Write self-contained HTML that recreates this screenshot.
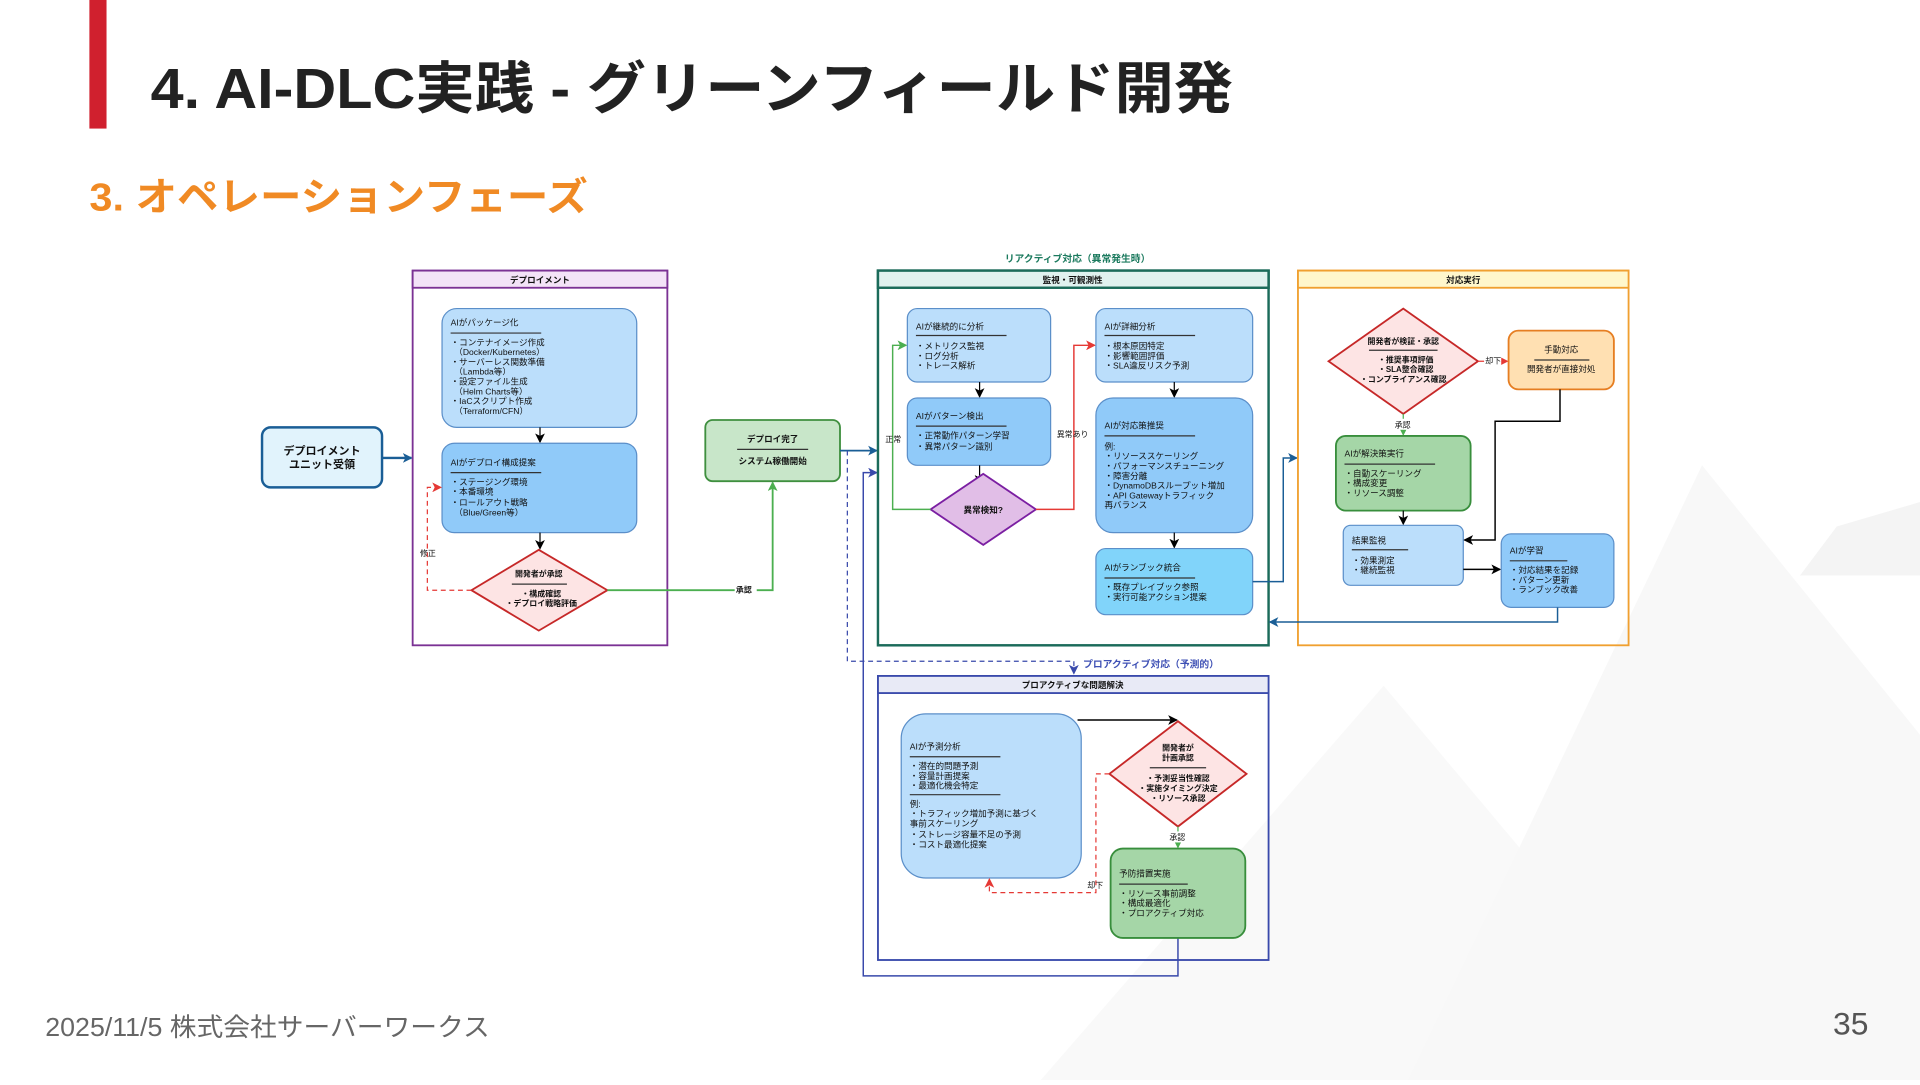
<!DOCTYPE html>
<html><head><meta charset="utf-8"><style>
html,body{margin:0;padding:0;background:#fff;}
body{width:1920px;height:1080px;overflow:hidden;position:relative;font-family:"Liberation Sans","Noto Sans CJK JP",sans-serif;}
svg text{font-family:"Liberation Sans","Noto Sans CJK JP",sans-serif;}
</style></head><body>
<svg width="1920" height="1080" viewBox="0 0 1568 882" xmlns="http://www.w3.org/2000/svg">
<defs>
<marker id="ak" markerWidth="8" markerHeight="8" refX="7" refY="4" orient="auto" markerUnits="userSpaceOnUse"><path d="M0,0 L8,4 L0,8 L2,4z" fill="#000"/></marker>
<marker id="ab" markerWidth="8" markerHeight="8" refX="7" refY="4" orient="auto" markerUnits="userSpaceOnUse"><path d="M0,0 L8,4 L0,8 L2,4z" fill="#1a5e96"/></marker>
<marker id="ag" markerWidth="8" markerHeight="8" refX="7" refY="4" orient="auto" markerUnits="userSpaceOnUse"><path d="M0,0 L8,4 L0,8 L2,4z" fill="#4caf50"/></marker>
<marker id="ar" markerWidth="8" markerHeight="8" refX="7" refY="4" orient="auto" markerUnits="userSpaceOnUse"><path d="M0,0 L8,4 L0,8 L2,4z" fill="#e53935"/></marker>
<marker id="ai" markerWidth="8" markerHeight="8" refX="7" refY="4" orient="auto" markerUnits="userSpaceOnUse"><path d="M0,0 L8,4 L0,8 L2,4z" fill="#3949ab"/></marker>
</defs>
<!-- background mountains -->
<polygon points="850,882 1130,560 1400,882" fill="#f9f9f9"/>
<polygon points="1150,882 1390,380 1568,600 1568,882" fill="#f8f8f8"/>
<polygon points="1500,430 1568,410 1568,470 1470,470" fill="#f4f4f4"/>
<!-- header -->
<rect x="73" y="0" width="14" height="105" fill="#d0202e"/>
<text x="123" y="88" font-size="46" font-weight="bold" fill="#222" textLength="884" lengthAdjust="spacingAndGlyphs">4. AI-DLC実践 - グリーンフィールド開発</text>
<text x="73" y="172" font-size="32" font-weight="bold" fill="#f08a24" textLength="407" lengthAdjust="spacingAndGlyphs">3. オペレーションフェーズ</text>
<text x="37" y="846" font-size="21" fill="#666" textLength="363" lengthAdjust="spacingAndGlyphs">2025/11/5 株式会社サーバーワークス</text>
<text x="1497" y="845" font-size="26" fill="#555">35</text>

<g font-size="7" fill="#111">
<rect x="214" y="349" width="98" height="49" rx="7" fill="#e1f3fc" stroke="#1a5e96" stroke-width="2"/>
<text x="263" y="371" text-anchor="middle" font-size="9" font-weight="bold">デプロイメント</text>
<text x="263" y="382" text-anchor="middle" font-size="9" font-weight="bold">ユニット受領</text>
<line x1="312" y1="374" x2="336" y2="374" stroke="#1a5e96" stroke-width="2" marker-end="url(#ab)"/>

<rect x="337" y="221" width="208" height="306" fill="none" stroke="#7b3294" stroke-width="1.5"/>
<rect x="337" y="221" width="208" height="14" fill="#f3e3f7" stroke="#7b3294" stroke-width="1.5"/>
<text x="441" y="231" text-anchor="middle" font-weight="bold">デプロイメント</text>
<rect x="361" y="252" width="159" height="97" rx="12" fill="#bbdefb" stroke="#5b8fc9"/>
<text x="368" y="266">AIがパッケージ化</text>
<line x1="368" y1="272" x2="442" y2="272" stroke="#333"/>
<text x="368" y="282">・コンテナイメージ作成</text>
<text x="371" y="290">（Docker/Kubernetes）</text>
<text x="368" y="298">・サーバーレス関数準備</text>
<text x="371" y="306">（Lambda等）</text>
<text x="368" y="314">・設定ファイル生成</text>
<text x="371" y="322">（Helm Charts等）</text>
<text x="368" y="330">・IaCスクリプト作成</text>
<text x="371" y="338">（Terraform/CFN）</text>
<line x1="441" y1="349" x2="441" y2="361" stroke="#000" marker-end="url(#ak)"/>
<rect x="361" y="362" width="159" height="73" rx="10" fill="#90caf9" stroke="#5b8fc9"/>
<text x="368" y="380">AIがデプロイ構成提案</text>
<line x1="368" y1="386" x2="442" y2="386" stroke="#333"/>
<text x="368" y="396">・ステージング環境</text>
<text x="368" y="404">・本番環境</text>
<text x="368" y="413">・ロールアウト戦略</text>
<text x="371" y="421">（Blue/Green等）</text>
<line x1="441" y1="435" x2="441" y2="448" stroke="#000" marker-end="url(#ak)"/>
<polygon points="440,449 496,482 440,515 385,482" fill="#fde4e4" stroke="#c62828" stroke-width="1.5"/>
<text x="440" y="471" text-anchor="middle" font-size="6.5" font-weight="bold">開発者が承認</text>
<line x1="418" y1="477" x2="463" y2="477" stroke="#333"/>
<text x="442" y="487" text-anchor="middle" font-size="6.5" font-weight="bold">・構成確認</text>
<text x="442" y="495" text-anchor="middle" font-size="6.5" font-weight="bold">・デプロイ戦略評価</text>
<polyline points="385,482 349,482 349,398 360,398" fill="none" stroke="#e53935" stroke-dasharray="4,3" marker-end="url(#ar)"/>
<text x="343" y="454" font-size="6.5">修正</text>
<polyline points="496,482 631,482 631,394" fill="none" stroke="#4caf50" stroke-width="1.5" marker-end="url(#ag)"/>
<rect x="600" y="476" width="18" height="9" fill="#fff"/>
<text x="601" y="484" font-size="6.5" font-weight="bold">承認</text>

<rect x="576" y="343" width="110" height="50" rx="6" fill="#c8e6c9" stroke="#3f8f3f" stroke-width="1.5"/>
<text x="631" y="361" text-anchor="middle" font-weight="bold">デプロイ完了</text>
<line x1="602" y1="367" x2="660" y2="367" stroke="#333"/>
<text x="631" y="379" text-anchor="middle" font-weight="bold">システム稼働開始</text>
<line x1="686" y1="368" x2="716" y2="368" stroke="#1a5e96" stroke-width="1.5" marker-end="url(#ab)"/>
<polyline points="692,368 692,540 877,540 877,550" fill="none" stroke="#3949ab" stroke-dasharray="4,3" marker-end="url(#ai)"/>
<polyline points="962,766 962,797 705,797 705,386 716,386" fill="none" stroke="#3949ab" stroke-width="1.2" marker-end="url(#ai)"/>

<text x="880" y="214" text-anchor="middle" font-size="8" font-weight="bold" fill="#1b7a5e">リアクティブ対応（異常発生時）</text>
<rect x="717" y="221" width="319" height="306" fill="none" stroke="#1b6b5a" stroke-width="2"/>
<rect x="717" y="221" width="319" height="14" fill="#e0f2ef" stroke="#1b6b5a" stroke-width="2"/>
<text x="876" y="231" text-anchor="middle" font-weight="bold">監視・可観測性</text>
<rect x="741" y="252" width="117" height="60" rx="8" fill="#bbdefb" stroke="#5b8fc9"/>
<text x="748" y="269">AIが継続的に分析</text>
<line x1="748" y1="274" x2="822" y2="274" stroke="#333"/>
<text x="748" y="285">・メトリクス監視</text>
<text x="748" y="293">・ログ分析</text>
<text x="748" y="301">・トレース解析</text>
<line x1="800" y1="312" x2="800" y2="324" stroke="#000" marker-end="url(#ak)"/>
<rect x="741" y="325" width="117" height="55" rx="8" fill="#90caf9" stroke="#5b8fc9"/>
<text x="748" y="342">AIがパターン検出</text>
<line x1="748" y1="348" x2="822" y2="348" stroke="#333"/>
<text x="748" y="358">・正常動作パターン学習</text>
<text x="748" y="367">・異常パターン識別</text>
<line x1="800" y1="380" x2="800" y2="395" stroke="#000" marker-end="url(#ak)"/>
<polygon points="803,387 846,416 803,445 760,416" fill="#e1bee7" stroke="#7b1fa2" stroke-width="1.5"/>
<text x="803" y="419" text-anchor="middle" font-weight="bold">異常検知?</text>
<polyline points="760,416 729,416 729,282 740,282" fill="none" stroke="#4caf50" stroke-width="1.2" marker-end="url(#ag)"/>
<text x="723" y="361" font-size="6.5">正常</text>
<polyline points="846,416 877,416 877,282 894,282" fill="none" stroke="#e53935" stroke-width="1.2" marker-end="url(#ar)"/>
<text x="863" y="357" font-size="6.5">異常あり</text>
<rect x="895" y="252" width="128" height="60" rx="8" fill="#bbdefb" stroke="#5b8fc9"/>
<text x="902" y="269">AIが詳細分析</text>
<line x1="902" y1="274" x2="976" y2="274" stroke="#333"/>
<text x="902" y="285">・根本原因特定</text>
<text x="902" y="293">・影響範囲評価</text>
<text x="902" y="301">・SLA違反リスク予測</text>
<line x1="959" y1="312" x2="959" y2="324" stroke="#000" marker-end="url(#ak)"/>
<rect x="895" y="325" width="128" height="110" rx="14" fill="#90caf9" stroke="#5b8fc9"/>
<text x="902" y="350">AIが対応策推奨</text>
<line x1="902" y1="356" x2="976" y2="356" stroke="#333"/>
<text x="902" y="367">例:</text>
<text x="902" y="375">・リソーススケーリング</text>
<text x="902" y="383">・パフォーマンスチューニング</text>
<text x="902" y="391">・障害分離</text>
<text x="902" y="399">・DynamoDBスループット増加</text>
<text x="902" y="407">・API Gatewayトラフィック</text>
<text x="902" y="415">再バランス</text>
<line x1="959" y1="435" x2="959" y2="447" stroke="#000" marker-end="url(#ak)"/>
<rect x="895" y="448" width="128" height="54" rx="8" fill="#81d4fa" stroke="#5b8fc9"/>
<text x="902" y="466">AIがランブック統合</text>
<line x1="902" y1="472" x2="976" y2="472" stroke="#333"/>
<text x="902" y="482">・既存プレイブック参照</text>
<text x="902" y="490">・実行可能アクション提案</text>
<polyline points="1023,475 1048,475 1048,374 1059,374" fill="none" stroke="#1a5e96" stroke-width="1.2" marker-end="url(#ab)"/>

<rect x="1060" y="221" width="270" height="306" fill="none" stroke="#f0a030" stroke-width="1.5"/>
<rect x="1060" y="221" width="270" height="14" fill="#fff7cc" stroke="#f0a030" stroke-width="1.5"/>
<text x="1195" y="231" text-anchor="middle" font-weight="bold">対応実行</text>
<polygon points="1146,252 1207,295 1146,338 1085,295" fill="#fde4e4" stroke="#c62828" stroke-width="1.5"/>
<text x="1146" y="281" text-anchor="middle" font-size="6.5" font-weight="bold">開発者が検証・承認</text>
<line x1="1118" y1="286" x2="1174" y2="286" stroke="#333"/>
<text x="1148" y="296" text-anchor="middle" font-size="6.5" font-weight="bold">・推奨事項評価</text>
<text x="1148" y="304" text-anchor="middle" font-size="6.5" font-weight="bold">・SLA整合確認</text>
<text x="1146" y="312" text-anchor="middle" font-size="6.5" font-weight="bold">・コンプライアンス確認</text>
<line x1="1207" y1="295" x2="1231" y2="295" stroke="#e53935" marker-end="url(#ar)"/>
<rect x="1212" y="290" width="14" height="9" fill="#fff"/>
<text x="1213" y="297" font-size="6.5">却下</text>
<rect x="1232" y="270" width="86" height="48" rx="8" fill="#ffe0b2" stroke="#e67e22" stroke-width="1.5"/>
<text x="1275" y="288" text-anchor="middle">手動対応</text>
<line x1="1253" y1="294" x2="1298" y2="294" stroke="#333"/>
<text x="1275" y="304" text-anchor="middle">開発者が直接対処</text>
<line x1="1146" y1="338" x2="1146" y2="355" stroke="#4caf50" marker-end="url(#ag)"/>
<rect x="1138" y="342" width="16" height="9" fill="#fff"/>
<text x="1139" y="349" font-size="6.5">承認</text>
<rect x="1091" y="356" width="110" height="61" rx="8" fill="#a5d6a7" stroke="#388e3c" stroke-width="1.5"/>
<text x="1098" y="373">AIが解決策実行</text>
<line x1="1098" y1="379" x2="1172" y2="379" stroke="#333"/>
<text x="1098" y="389">・自動スケーリング</text>
<text x="1098" y="397">・構成変更</text>
<text x="1098" y="405">・リソース調整</text>
<line x1="1146" y1="417" x2="1146" y2="428" stroke="#000" marker-end="url(#ak)"/>
<rect x="1097" y="429" width="98" height="49" rx="6" fill="#bbdefb" stroke="#5b8fc9"/>
<text x="1104" y="444">結果監視</text>
<line x1="1104" y1="449" x2="1150" y2="449" stroke="#333"/>
<text x="1104" y="460">・効果測定</text>
<text x="1104" y="468">・継続監視</text>
<polyline points="1274,318 1274,344 1221,344 1221,441 1196,441" fill="none" stroke="#000" stroke-width="1.2" marker-end="url(#ak)"/>
<line x1="1195" y1="465" x2="1225" y2="465" stroke="#000" stroke-width="1.2" marker-end="url(#ak)"/>
<rect x="1226" y="436" width="92" height="60" rx="8" fill="#90caf9" stroke="#5b8fc9"/>
<text x="1233" y="452">AIが学習</text>
<line x1="1233" y1="458" x2="1280" y2="458" stroke="#333"/>
<text x="1233" y="468">・対応結果を記録</text>
<text x="1233" y="476">・パターン更新</text>
<text x="1233" y="484">・ランブック改善</text>
<polyline points="1272,496 1272,508 1037,508" fill="none" stroke="#1a5e96" stroke-width="1.2" marker-end="url(#ab)"/>

<text x="940" y="545" text-anchor="middle" font-size="8" font-weight="bold" fill="#3f51b5">プロアクティブ対応（予測的）</text>
<rect x="717" y="552" width="319" height="232" fill="none" stroke="#3949ab" stroke-width="1.5"/>
<rect x="717" y="552" width="319" height="14" fill="#e8eaf6" stroke="#3949ab" stroke-width="1.5"/>
<text x="876" y="562" text-anchor="middle" font-weight="bold">プロアクティブな問題解決</text>
<rect x="736" y="583" width="147" height="134" rx="20" fill="#bbdefb" stroke="#5b8fc9"/>
<text x="743" y="612">AIが予測分析</text>
<line x1="743" y1="618" x2="817" y2="618" stroke="#333"/>
<text x="743" y="628">・潜在的問題予測</text>
<text x="743" y="636">・容量計画提案</text>
<text x="743" y="644">・最適化機会特定</text>
<line x1="743" y1="649" x2="817" y2="649" stroke="#333"/>
<text x="743" y="659">例:</text>
<text x="743" y="667">・トラフィック増加予測に基づく</text>
<text x="743" y="675">事前スケーリング</text>
<text x="743" y="684">・ストレージ容量不足の予測</text>
<text x="743" y="692">・コスト最適化提案</text>
<line x1="880" y1="588" x2="961" y2="588" stroke="#000" stroke-width="1.2" marker-end="url(#ak)"/>
<polygon points="962,589 1018,632 962,675 906,632" fill="#fde4e4" stroke="#c62828" stroke-width="1.5"/>
<text x="962" y="613" text-anchor="middle" font-size="6.5" font-weight="bold">開発者が</text>
<text x="962" y="621" text-anchor="middle" font-size="6.5" font-weight="bold">計画承認</text>
<line x1="939" y1="627" x2="985" y2="627" stroke="#333"/>
<text x="962" y="638" text-anchor="middle" font-size="6.5" font-weight="bold">・予測妥当性確認</text>
<text x="962" y="646" text-anchor="middle" font-size="6.5" font-weight="bold">・実施タイミング決定</text>
<text x="962" y="654" text-anchor="middle" font-size="6.5" font-weight="bold">・リソース承認</text>
<polyline points="906,632 895,632 895,729 808,729 808,718" fill="none" stroke="#e53935" stroke-dasharray="4,3" marker-end="url(#ar)"/>
<text x="888" y="725" font-size="6.5">却下</text>
<line x1="962" y1="675" x2="962" y2="692" stroke="#4caf50" marker-end="url(#ag)"/>
<rect x="954" y="679" width="16" height="9" fill="#fff"/>
<text x="955" y="686" font-size="6.5">承認</text>
<rect x="907" y="693" width="110" height="73" rx="10" fill="#a5d6a7" stroke="#388e3c" stroke-width="1.5"/>
<text x="914" y="716">予防措置実施</text>
<line x1="914" y1="722" x2="970" y2="722" stroke="#333"/>
<text x="914" y="732">・リソース事前調整</text>
<text x="914" y="740">・構成最適化</text>
<text x="914" y="748">・プロアクティブ対応</text>
</g>
</svg>
</body></html>
